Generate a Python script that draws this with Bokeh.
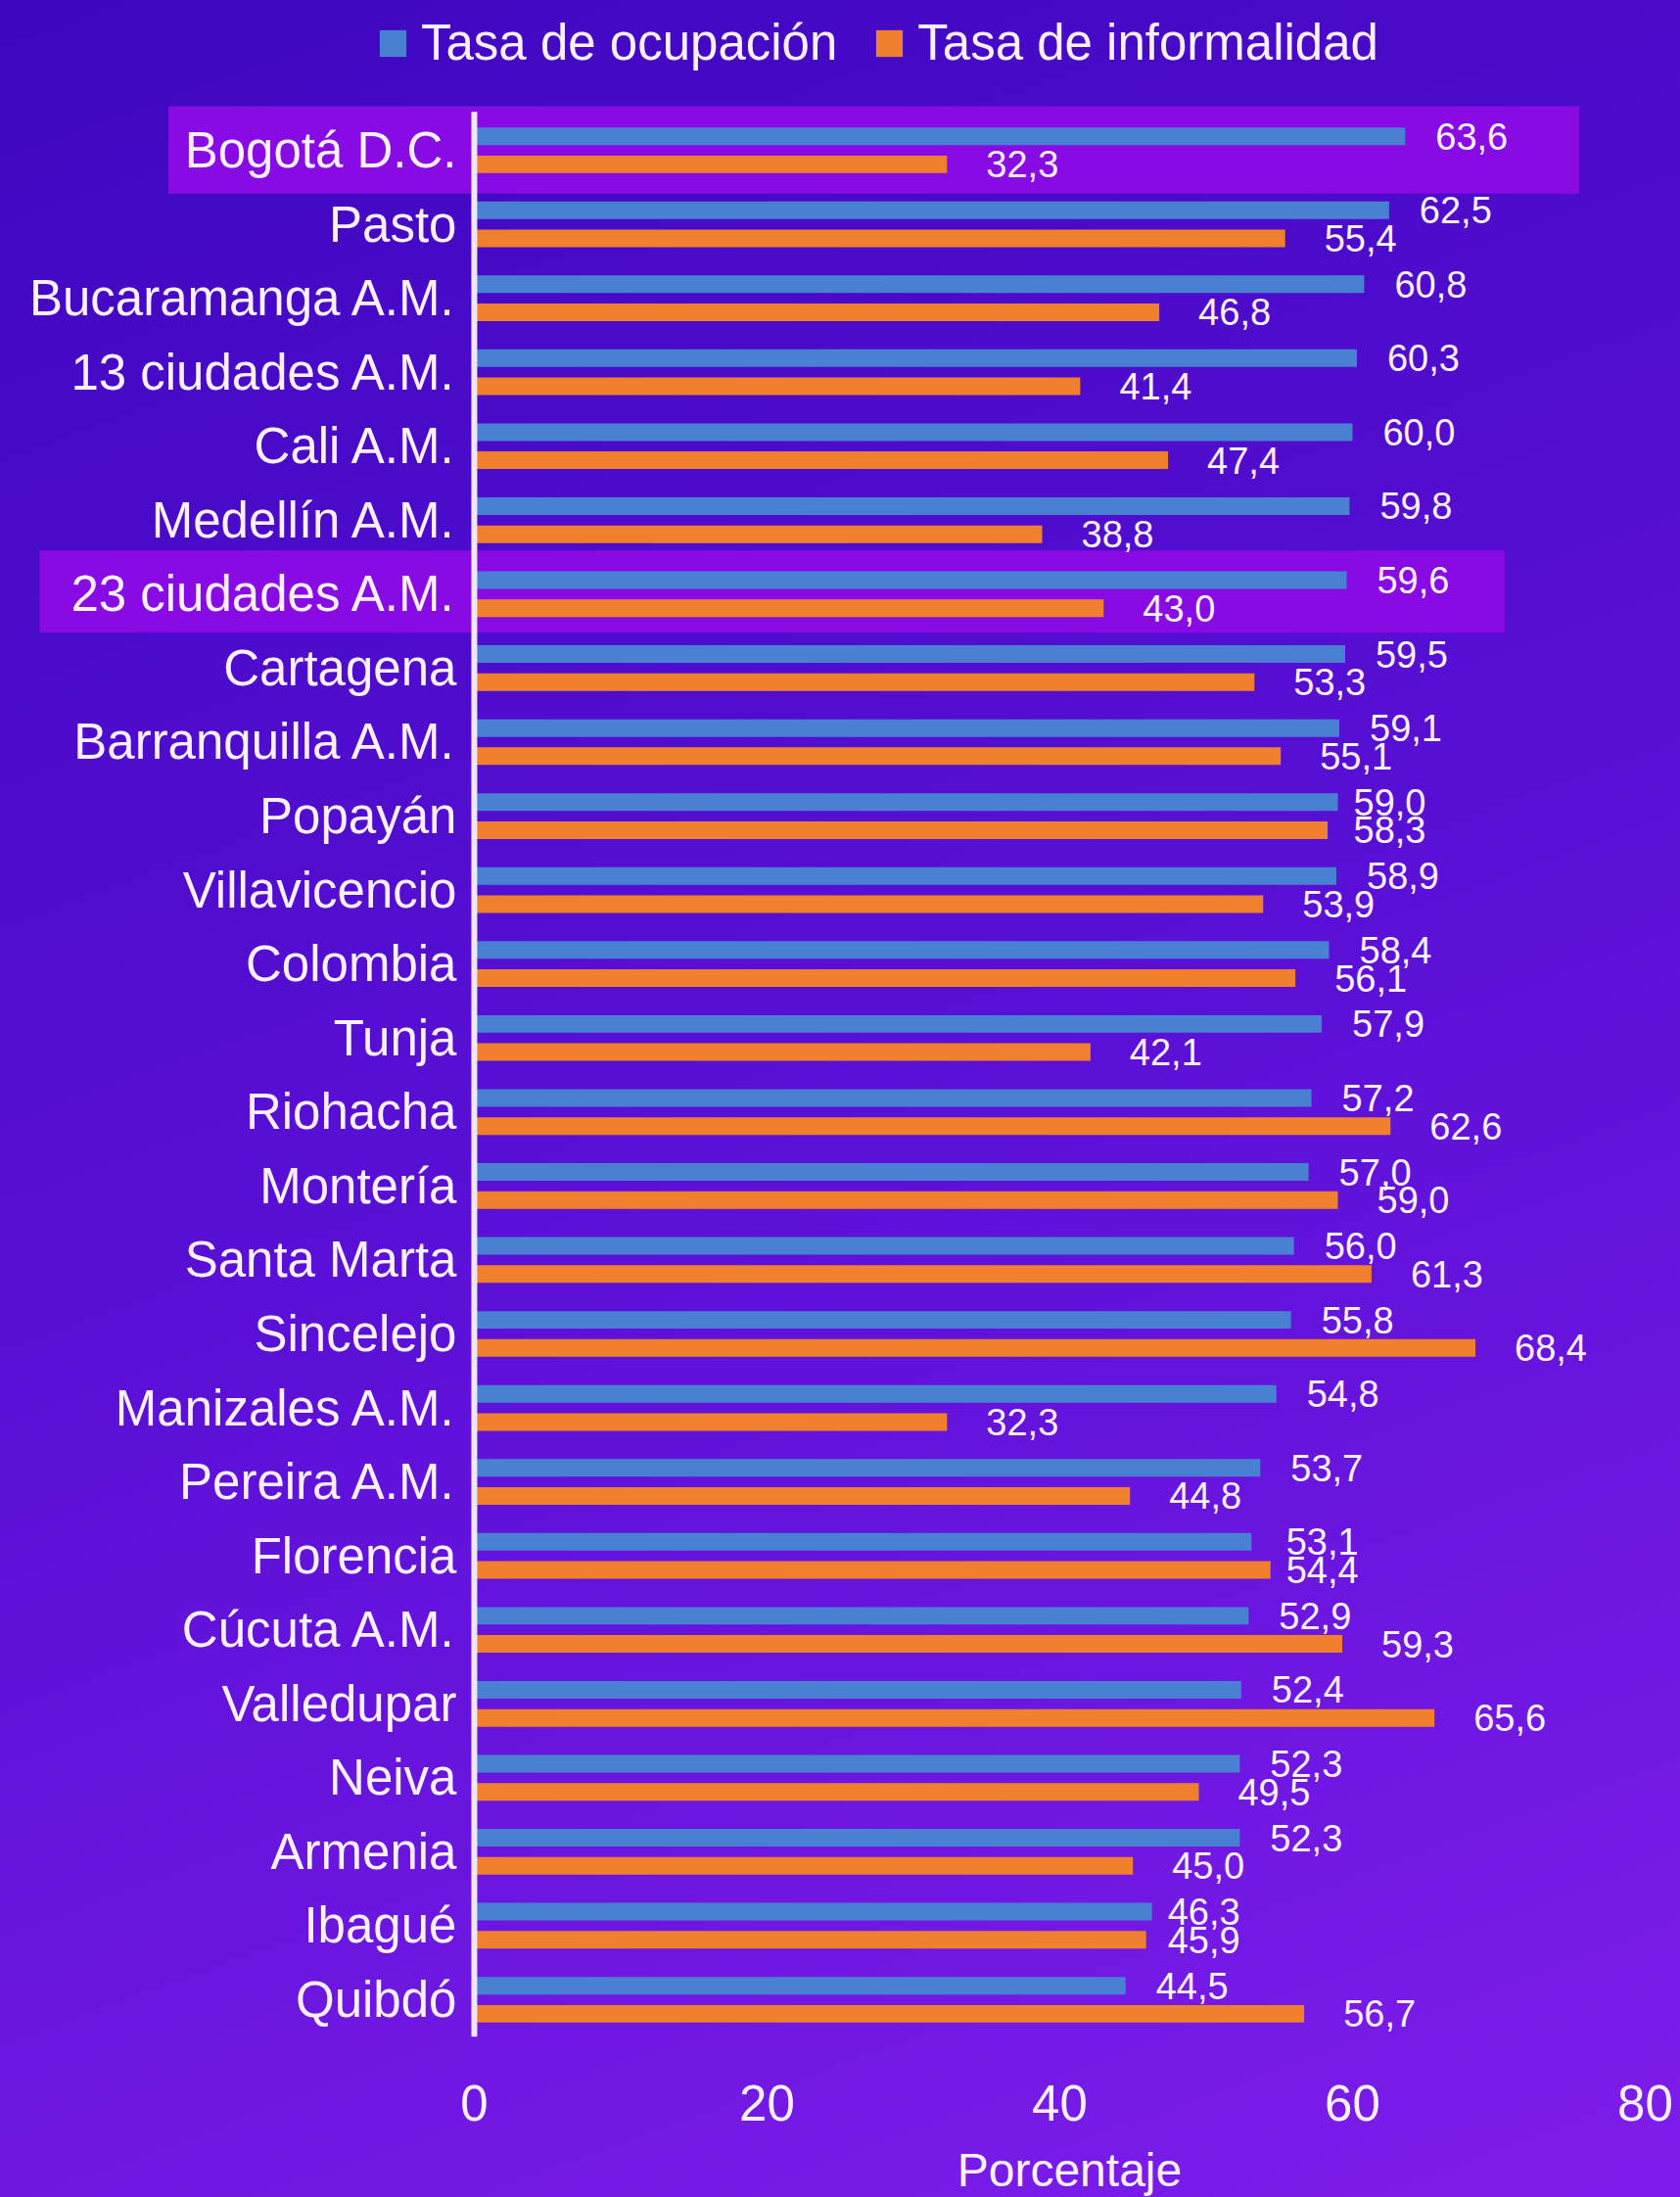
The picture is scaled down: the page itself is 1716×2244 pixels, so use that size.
from bokeh.plotting import figure
from bokeh.models import (ColumnDataSource, Legend, LegendItem,
                          BoxAnnotation, GlobalInlineStyleSheet, Range1d)
from bokeh.embed import file_html
from bokeh.resources import INLINE
from bokeh.transform import dodge
from bokeh.core.properties import value

# ---------------- data ----------------
cities = ["Bogotá D.C.", "Pasto", "Bucaramanga A.M.", "13 ciudades A.M.", "Cali A.M.",
          "Medellín A.M.", "23 ciudades A.M.", "Cartagena", "Barranquilla A.M.", "Popayán",
          "Villavicencio", "Colombia", "Tunja", "Riohacha", "Montería", "Santa Marta",
          "Sincelejo", "Manizales A.M.", "Pereira A.M.", "Florencia", "Cúcuta A.M.",
          "Valledupar", "Neiva", "Armenia", "Ibagué", "Quibdó"]
ocupacion = [63.6, 62.5, 60.8, 60.3, 60.0, 59.8, 59.6, 59.5, 59.1, 59.0, 58.9, 58.4, 57.9,
             57.2, 57.0, 56.0, 55.8, 54.8, 53.7, 53.1, 52.9, 52.4, 52.3, 52.3, 46.3, 44.5]
informalidad = [32.3, 55.4, 46.8, 41.4, 47.4, 38.8, 43.0, 53.3, 55.1, 58.3, 53.9, 56.1, 42.1,
                62.6, 59.0, 61.3, 68.4, 32.3, 44.8, 54.4, 59.3, 65.6, 49.5, 45.0, 45.9, 56.7]
series_names = ["Tasa de ocupación", "Tasa de informalidad"]
highlighted = ["Bogotá D.C.", "23 ciudades A.M."]
x_ticks = [0, 20, 40, 60, 80]
x_title = "Porcentaje"

# ---------------- styles ----------------
FONT = "Liberation Sans"
TXT = "#FBF0FF"
BLUE = "#4A80D2"
ORANGE = "#F0802E"
BAND = "#880BE4"
AXIS = "#EFE6F7"
BAR_H = 0.238
OFF = 0.19

n = len(cities)
pos = [n - 1 - i for i in range(n)]


def fmt(v):
    return f"{v:.1f}".replace(".", ",")


close = [abs(a - b) < 1.5 for a, b in zip(ocupacion, informalidad)]
src = ColumnDataSource(dict(
    city=cities, pos=pos, occ=ocupacion, inf=informalidad,
    occ_lbl=[fmt(v) for v in ocupacion], inf_lbl=[fmt(v) for v in informalidad],
    occ_lx=[max(a, b) if c else a for a, b, c in zip(ocupacion, informalidad, close)],
    inf_lx=[max(a, b) if c else b for a, b, c in zip(ocupacion, informalidad, close)],
    occ_off=[16 if c else 31 for c in close],
    inf_off=[16 if c else 40 for c in close],
))

# the plotting frame covers the whole canvas; the value scale runs 0..80
p = figure(width=1716, height=2244, x_range=Range1d(-32.37, 82.41),
           y_range=Range1d(-2.673, 27.025), output_backend="svg",
           toolbar_location=None, x_axis_location=None, y_axis_location=None,
           min_border=0)
p.background_fill_alpha = 0
p.border_fill_alpha = 0
p.outline_line_color = None
p.grid.visible = False

# page background gradient
p.stylesheets = [GlobalInlineStyleSheet(css=(
    "html { height: 100%; background: linear-gradient(160deg, #3e07bf 0%, "
    "#5a10d6 50%, #7e1deb 100%); } body { background: transparent; }"))]

# highlight bands (extend under the category labels)
band_ext = {"Bogotá D.C.": (-20.9, 75.5, 0.595, 0.585),
            "23 ciudades A.M.": (-29.7, 70.4, 0.59, 0.52)}
for c in highlighted:
    yy = pos[cities.index(c)]
    l, r, t, b = band_ext[c]
    p.add_layout(BoxAnnotation(left=l, right=r, top=yy + t, bottom=yy - b,
                               fill_color=BAND, fill_alpha=1.0, line_color=None,
                               level="underlay"))

r1 = p.hbar(y=dodge("pos", OFF), left=0, right="occ", height=BAR_H,
            fill_color=BLUE, line_color=None, source=src)
r2 = p.hbar(y=dodge("pos", -OFF), left=0, right="inf", height=BAR_H,
            fill_color=ORANGE, line_color=None, source=src)

# value axis line at x = 0
p.segment(x0=[0], y0=[-0.5], x1=[0], y1=[n - 1 + 0.52], line_color=AXIS,
          line_width=6)

# value labels
p.text(x="occ_lx", y=dodge("pos", OFF), text="occ_lbl", x_offset="occ_off",
       text_align="left", text_baseline="middle", text_font=value(FONT),
       text_font_size="38px", text_color=TXT, source=src)
p.text(x="inf_lx", y=dodge("pos", -OFF), text="inf_lbl", x_offset="inf_off",
       text_align="left", text_baseline="middle", text_font=value(FONT),
       text_font_size="38px", text_color=TXT, source=src)

# category labels
p.text(x=0, y="pos", text="city", x_offset=-18, text_align="right",
       text_baseline="middle", text_font=value(FONT), text_font_size="51px",
       text_color=TXT, source=src)

# value-axis tick labels and title
p.text(x=x_ticks, y=[-1.39] * len(x_ticks), text=[str(t) for t in x_ticks],
       text_align="center", text_baseline="middle", text_font=value(FONT),
       text_font_size="51px", text_color=TXT)
p.text(x=[40], y=[-2.3], text=[x_title], x_offset=10, text_align="center",
       text_baseline="middle", text_font=value(FONT), text_font_size="48px",
       text_color=TXT)

legend = Legend(items=[LegendItem(label=series_names[0], renderers=[r1]),
                       LegendItem(label=series_names[1], renderers=[r2])],
                orientation="horizontal", location=(384, 2171),
                glyph_width=34, glyph_height=34, label_standoff=12, spacing=36,
                padding=0, margin=0, border_line_color=None,
                background_fill_alpha=0, label_text_font=FONT,
                label_text_font_size="51px", label_text_color=TXT)
p.add_layout(legend, "center")

open("out.html", "w").write(file_html(p, INLINE))
